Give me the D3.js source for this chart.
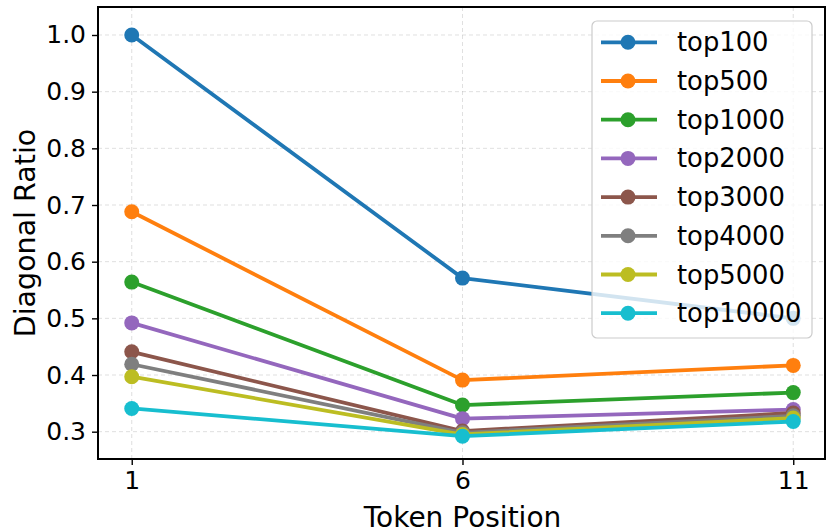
<!DOCTYPE html>
<html>
<head>
<meta charset="utf-8">
<script src="https://cdn.jsdelivr.net/npm/d3@7"></script>
<style>
  body { margin: 0; background: #fff; }
  svg { font-family: "DejaVu Sans", sans-serif; }
</style>
</head>
<body>
<svg id="drawing_region"></svg>
<script>
const positions = [1, 6, 11];
const seriesNames = ['top100', 'top500', 'top1000', 'top2000', 'top3000', 'top4000', 'top5000', 'top10000'];
const top100 = [1.0, 0.571, 0.500];
const top500 = [0.688, 0.391, 0.417];
const top1000 = [0.564, 0.347, 0.369];
const top2000 = [0.492, 0.323, 0.339];
const top3000 = [0.441, 0.301, 0.333];
const top4000 = [0.419, 0.298, 0.328];
const top5000 = [0.397, 0.295, 0.324];
const top10000 = [0.341, 0.292, 0.318];
const yTicks = [0.3, 0.4, 0.5, 0.6, 0.7, 0.8, 0.9, 1.0];
const colors = ['#1f77b4', '#ff7f0e', '#2ca02c', '#9467bd', '#8c564b', '#7f7f7f', '#bcbd22', '#17becf'];

const allValues = [top100, top500, top1000, top2000, top3000, top4000, top5000, top10000];
const series = seriesNames.map((name, i) => ({
    name: name,
    color: colors[i],
    points: positions.map((p, j) => ({x: p, y: allValues[i][j]}))
}));

const width = 827, height = 529;
const margin = {top: 7, right: 2, bottom: 70, left: 98};
const innerW = width - margin.left - margin.right;
const innerH = height - margin.top - margin.bottom;

const svg = d3.select('#drawing_region')
    .attr('width', width)
    .attr('height', height);

const chart = svg.append('g')
    .attr('transform', `translate(${margin.left}, ${margin.top})`);

const xscale = d3.scaleLinear().domain([0.49, 11.48]).range([0, innerW]);
const yscale = d3.scaleLinear().domain([0.2518, 1.0494]).range([innerH, 0]);

// grid
chart.append('g').selectAll('line.gy')
    .data(yTicks).enter().append('line')
    .attr('x1', 0).attr('x2', innerW)
    .attr('y1', d => yscale(d)).attr('y2', d => yscale(d))
    .attr('stroke', '#b0b0b0').attr('stroke-opacity', 0.5)
    .attr('stroke-width', 0.8).attr('stroke-dasharray', '4,3');
chart.append('g').selectAll('line.gx')
    .data(positions).enter().append('line')
    .attr('y1', 0).attr('y2', innerH)
    .attr('x1', d => xscale(d)).attr('x2', d => xscale(d))
    .attr('stroke', '#b0b0b0').attr('stroke-opacity', 0.5)
    .attr('stroke-width', 0.8).attr('stroke-dasharray', '4,3');

// axes
const xaxis = d3.axisBottom(xscale).tickValues(positions).tickFormat(d3.format('d'))
    .tickSizeOuter(0).tickSize(6).tickPadding(6);
const yaxis = d3.axisLeft(yscale).tickValues(yTicks).tickFormat(d3.format('.1f'))
    .tickSizeOuter(0).tickSize(6).tickPadding(6);

const xg = chart.append('g').attr('transform', `translate(0, ${innerH})`).call(xaxis);
const yg = chart.append('g').call(yaxis);
[xg, yg].forEach(g => {
    g.select('.domain').remove();
    g.selectAll('line').attr('stroke', '#000').attr('stroke-width', 1.4);
    g.selectAll('text').attr('font-size', 25).attr('fill', '#000')
        .attr('font-family', '"DejaVu Sans", sans-serif');
});

// lines & markers
const line = d3.line().x(d => xscale(d.x)).y(d => yscale(d.y));
series.forEach(s => {
    const g = chart.append('g');
    g.append('path')
        .attr('d', line(s.points))
        .attr('fill', 'none')
        .attr('stroke', s.color)
        .attr('stroke-width', 3.8)
        .attr('stroke-linejoin', 'round');
    g.selectAll('circle')
        .data(s.points).enter().append('circle')
        .attr('cx', d => xscale(d.x))
        .attr('cy', d => yscale(d.y))
        .attr('r', 7.5)
        .attr('fill', s.color);
});

// frame
chart.append('rect')
    .attr('width', innerW).attr('height', innerH)
    .attr('fill', 'none').attr('stroke', '#000').attr('stroke-width', 2);

// axis labels
svg.append('text')
    .attr('x', margin.left + xscale(6))
    .attr('y', 527)
    .attr('text-anchor', 'middle')
    .attr('font-size', 28)
    .text('Token Position');
svg.append('text')
    .attr('transform', `translate(35, ${margin.top + innerH / 2}) rotate(-90)`)
    .attr('text-anchor', 'middle')
    .attr('font-size', 28.5)
    .text('Diagonal Ratio');

// legend
const legend = svg.append('g').attr('transform', 'translate(592, 21)');
legend.append('rect')
    .attr('width', 220).attr('height', 317)
    .attr('rx', 5).attr('ry', 5)
    .attr('fill', '#fff').attr('fill-opacity', 0.8)
    .attr('stroke', '#cccccc').attr('stroke-width', 1.2);
const items = legend.selectAll('g.item')
    .data(series).enter().append('g')
    .attr('transform', (d, i) => `translate(0, ${21.3 + i * 38.7})`);
items.append('line')
    .attr('x1', 9).attr('x2', 65)
    .attr('stroke', d => d.color).attr('stroke-width', 3.8);
items.append('circle')
    .attr('cx', 36).attr('r', 7.5)
    .attr('fill', d => d.color);
items.append('text')
    .attr('x', 85).attr('dy', '0.35em')
    .attr('font-size', 25.8)
    .text(d => d.name);
</script>
</body>
</html>
